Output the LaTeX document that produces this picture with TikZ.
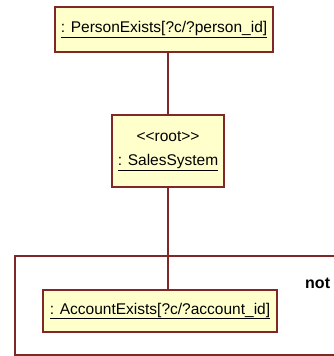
\documentclass[tikz,border=0pt]{standalone}
\usepackage{fontspec}
\setmainfont{Liberation Sans}
\usetikzlibrary{positioning}
\definecolor{umlbrown}{RGB}{128,40,40}
\definecolor{umlyellow}{RGB}{255,255,204}
\tikzset{
  umlobj/.style={draw=umlbrown, fill=umlyellow, line width=1.6pt, inner sep=0pt,
    font=\fontsize{15.5}{24}\selectfont, align=center},
  link/.style={draw=umlbrown, line width=1.2pt}
}
\begin{document}
\begin{tikzpicture}[x=1pt, y=-1pt]
    \useasboundingbox (0,0) rectangle (333,356);
    % Fragment frame
    \draw[draw=umlbrown, line width=1.2pt] (15,256) rectangle (345,355);
    \node[anchor=west, inner sep=0pt, font=\fontsize{16}{18}\selectfont\bfseries] (neg) at (305,283) {not};

    % Objects
    \node[umlobj, minimum width=218pt, minimum height=45pt] (person) at (164,29.5) {\underline{: PersonExists[?c/?person\_id]}};
    \node[umlobj, minimum width=112pt, minimum height=72pt] (root) at (168,151) {{<}{<}root{>}{>}\\\underline{: SalesSystem}};
    \node[umlobj, minimum width=234pt, minimum height=42pt] (account) at (160,311) {\underline{: AccountExists[?c/?account\_id]}};

    % Links
    \draw[link] (person.south -| root.north) -- (root.north);
    \draw[link] (root.south) -- (root.south |- account.north);
\end{tikzpicture}
\end{document}
